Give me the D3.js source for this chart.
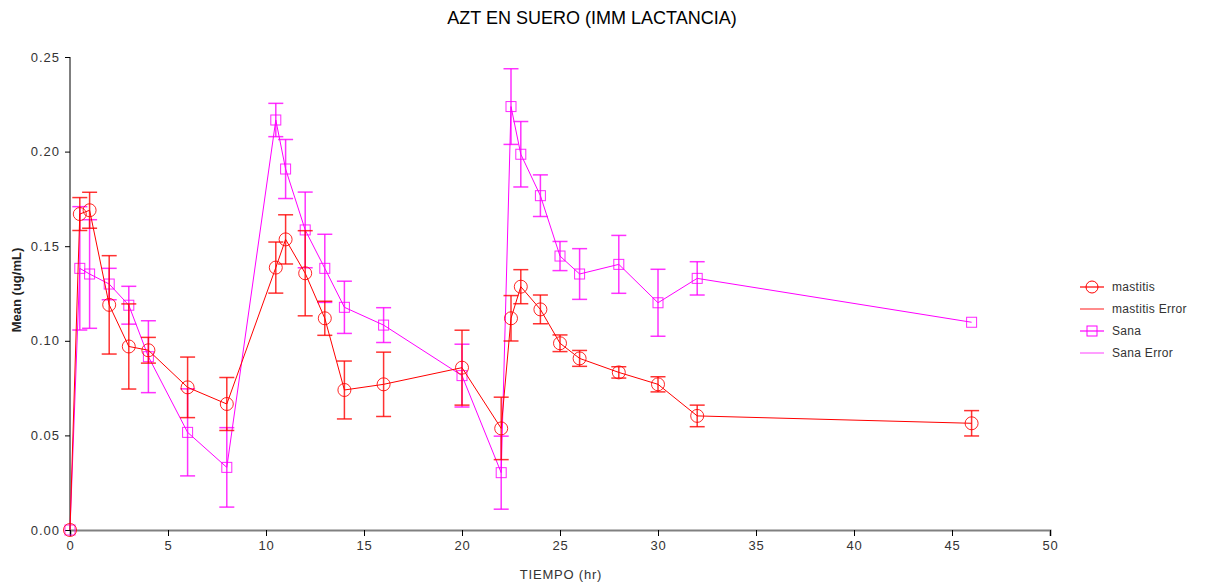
<!DOCTYPE html>
<html>
<head>
<meta charset="utf-8">
<script src="https://cdn.jsdelivr.net/npm/d3@7"></script>
<style>
  body { margin: 0; background: #fff; }
  text { font-family: "Liberation Sans", Arial, sans-serif; }
</style>
</head>
<body>
<div id="chart"></div>
<script>
// tiempos de muestreo (hr)
const tiempos = [0, 0.5, 1, 2, 3, 4, 6, 8, 10.5, 11, 12, 13, 14, 16, 20, 22, 22.5, 23, 24, 25, 26, 28, 30, 32, 46];

const mastitisMedia = [0, 0.167, 0.169, 0.119, 0.097, 0.095, 0.0754, 0.0666, 0.1387, 0.1536, 0.1357, 0.1119, 0.074, 0.077, 0.0858, 0.0537, 0.1119, 0.1286, 0.1166, 0.0987, 0.0907, 0.0833, 0.077, 0.0603, 0.0564];
const mastitisError = [0, 0.0087, 0.0095, 0.026, 0.0225, 0.0068, 0.016, 0.014, 0.0135, 0.013, 0.0225, 0.009, 0.0153, 0.017, 0.0198, 0.0165, 0.012, 0.009, 0.0076, 0.0044, 0.0042, 0.003, 0.004, 0.0057, 0.0067];

const sanaMedia = [0, 0.1383, 0.1353, 0.130, 0.1188, 0.0916, 0.0516, 0.0331, 0.2167, 0.1908, 0.1586, 0.1383, 0.1177, 0.1083, 0.0816, 0.0303, 0.2238, 0.1986, 0.1767, 0.1448, 0.1353, 0.1404, 0.1201, 0.133, 0.1098];
const sanaError = [0, 0.0326, 0.0287, 0.0083, 0.01, 0.019, 0.023, 0.021, 0.0088, 0.0156, 0.020, 0.018, 0.0138, 0.0092, 0.0166, 0.0193, 0.02, 0.0173, 0.011, 0.0077, 0.0134, 0.0153, 0.0177, 0.0088, 0];

const xTicks = [0, 5, 10, 15, 20, 25, 30, 35, 40, 45, 50];
const yTicks = [0, 0.05, 0.10, 0.15, 0.20, 0.25];
const leyenda = ["mastitis", "mastitis Error", "Sana", "Sana Error"];

const width = 1206;
const height = 585;
const margin = { left: 70, right: 156, top: 57, bottom: 55 };

const svg = d3.select("#chart")
  .append("svg")
  .attr("width", width)
  .attr("height", height);

const x = d3.scaleLinear().domain([0, 50]).range([margin.left, width - margin.right]);
const y = d3.scaleLinear().domain([0, 0.25]).range([height - margin.bottom, margin.top]);

// titulo
svg.append("text")
  .attr("x", 592)
  .attr("y", 24)
  .attr("text-anchor", "middle")
  .attr("font-size", 18)
  .attr("fill", "#000")
  .text("AZT EN SUERO (IMM LACTANCIA)");

// eje x
const xAxis = svg.append("g")
  .attr("transform", `translate(0,${y(0)})`)
  .call(d3.axisBottom(x).tickValues(xTicks).tickSize(6).tickPadding(5).tickFormat(d3.format("d")));
xAxis.select(".domain").attr("stroke", "#808080").attr("stroke-width", 2);
xAxis.selectAll(".tick line").attr("stroke", "#000");
xAxis.selectAll("text").attr("font-size", 13).attr("letter-spacing", 0.8).attr("fill", "#333").attr("font-family", "Liberation Sans");

// eje y
const yAxis = svg.append("g")
  .attr("transform", `translate(${x(0)},0)`)
  .call(d3.axisLeft(y).tickValues(yTicks).tickSize(5).tickPadding(5).tickFormat(d3.format(".2f")));
yAxis.select(".domain").attr("stroke", "#000").attr("d", `M0,${y(0.25)}V${y(0)}`);
yAxis.selectAll("text").attr("font-size", 13).attr("letter-spacing", 1).attr("fill", "#333").attr("font-family", "Liberation Sans");

svg.append("text")
  .attr("x", 561)
  .attr("y", 579)
  .attr("text-anchor", "middle")
  .attr("font-size", 13)
  .attr("letter-spacing", 0.8)
  .attr("fill", "#333")
  .text("TIEMPO (hr)");

svg.append("text")
  .attr("transform", `translate(21,290) rotate(-90)`)
  .attr("text-anchor", "middle")
  .attr("font-size", 13)
  .attr("font-weight", "bold")
  .attr("fill", "#222")
  .text("Mean (ug/mL)");

function serie(medias, errores, color, marca) {
  const datos = tiempos.map((t, i) => ({ t: t, m: medias[i], e: errores[i] }));
  const g = svg.append("g");

  // barras de error
  datos.filter(d => d.e > 0).forEach(d => {
    const cx = x(d.t);
    g.append("line")
      .attr("x1", cx).attr("x2", cx)
      .attr("y1", y(d.m + d.e)).attr("y2", y(d.m - d.e))
      .attr("stroke", color).attr("stroke-width", 1.5).attr("opacity", 0.8);
    [d.m + d.e, d.m - d.e].forEach(v => {
      g.append("line")
        .attr("x1", cx - 7.5).attr("x2", cx + 7.5)
        .attr("y1", y(v)).attr("y2", y(v))
        .attr("stroke", color).attr("stroke-width", 1.5).attr("opacity", 0.8);
    });
  });

  const linea = d3.line().x(d => x(d.t)).y(d => y(d.m));
  g.append("path")
    .datum(datos)
    .attr("d", linea)
    .attr("fill", "none")
    .attr("stroke", color)
    .attr("stroke-width", 1);

  if (marca === "circulo") {
    g.selectAll("circle").data(datos).enter().append("circle")
      .attr("cx", d => x(d.t))
      .attr("cy", d => y(d.m))
      .attr("r", 6.5)
      .attr("fill", "none")
      .attr("stroke", color)
      .attr("stroke-width", 1)
      .attr("opacity", 0.85);
  } else {
    g.selectAll("rect").data(datos).enter().append("rect")
      .attr("x", d => x(d.t) - 5)
      .attr("y", d => y(d.m) - 5)
      .attr("width", 10)
      .attr("height", 10)
      .attr("fill", "none")
      .attr("stroke", color)
      .attr("stroke-width", 1)
      .attr("opacity", 0.85);
  }
}

serie(sanaMedia, sanaError, "#ff00ff", "cuadro");
serie(mastitisMedia, mastitisError, "#ff0000", "circulo");

// leyenda
const colores = ["#ff0000", "#ff4040", "#ff00ff", "#ff60ff"];
leyenda.forEach((nombre, i) => {
  const ly = 287 + i * 22;
  const lg = svg.append("g");
  lg.append("line")
    .attr("x1", 1080).attr("x2", 1104)
    .attr("y1", ly).attr("y2", ly)
    .attr("stroke", colores[i]).attr("stroke-width", 1.5).attr("opacity", 0.8);
  if (i === 0) {
    lg.append("circle").attr("cx", 1092).attr("cy", ly).attr("r", 6)
      .attr("fill", "none").attr("stroke", colores[i]).attr("stroke-width", 1);
  }
  if (i === 2) {
    lg.append("rect").attr("x", 1087).attr("y", ly - 5).attr("width", 10).attr("height", 10)
      .attr("fill", "none").attr("stroke", colores[i]).attr("stroke-width", 1);
  }
  lg.append("text")
    .attr("x", 1112)
    .attr("y", ly + 4)
    .attr("font-size", 12)
    .attr("letter-spacing", 0.3)
    .attr("fill", "#333")
    .text(nombre);
});
</script>
</body>
</html>
